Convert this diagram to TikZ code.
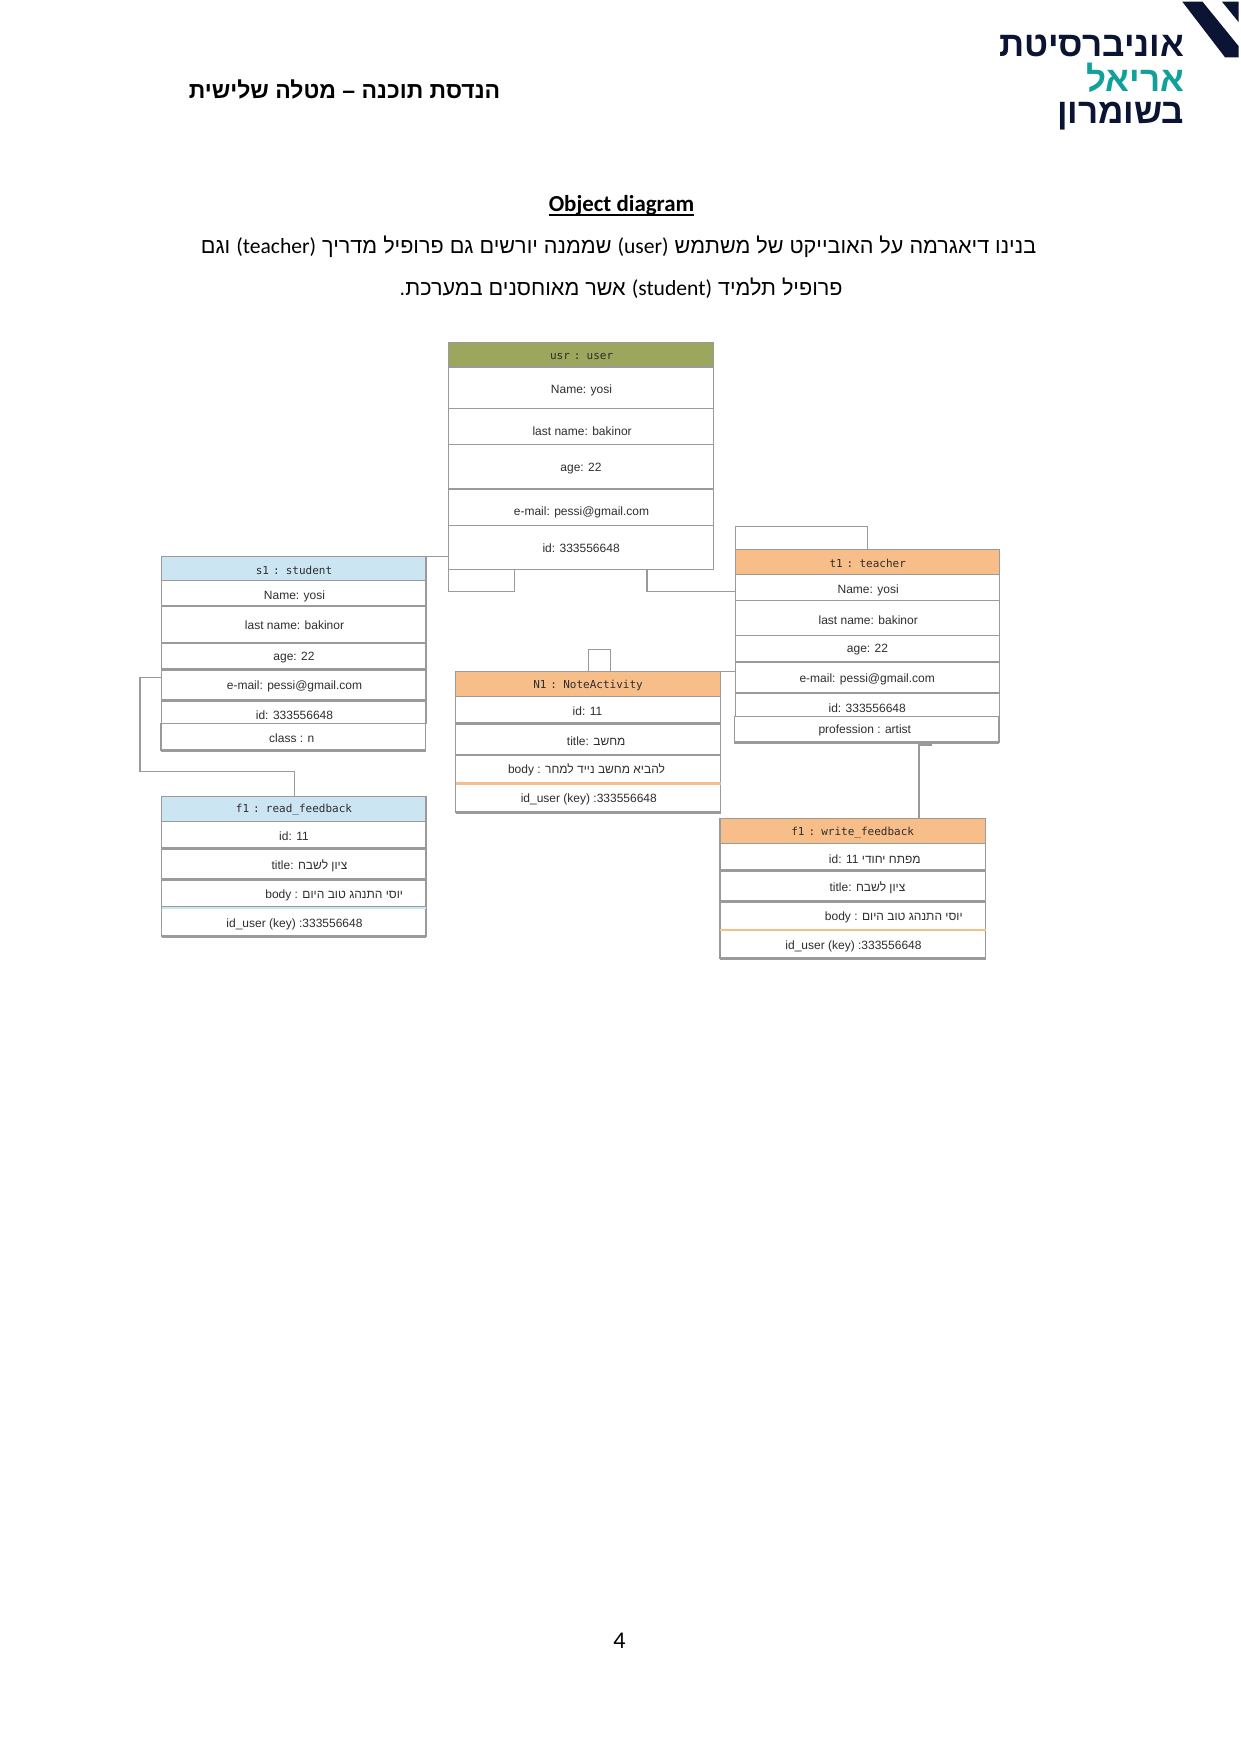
\documentclass[tikz,border=0pt]{standalone}
\usepackage{fontspec}
\setmainfont{Liberation Sans}
\newfontfamily\hebfont[Script=Hebrew]{Liberation Sans}
\newfontfamily\calfont{Carlito}
\newfontfamily\monofam[WordSpace=0.6]{DejaVu Sans Mono}
\TeXXeTstate=1
\newcommand{\heb}[1]{{\hebfont\beginR #1\endR}}
\definecolor{ln}{HTML}{9A9A9A}
\definecolor{txt}{HTML}{2E2E2E}
\definecolor{olive}{HTML}{9DA65D}
\definecolor{skyb}{HTML}{CCE5F3}
\definecolor{orng}{HTML}{F8BE8A}
\definecolor{navy}{HTML}{0B1533}
\definecolor{teal2}{HTML}{12A19A}
\tikzset{
  rowbox/.style={draw=ln,line width=1.1pt,fill=white,inner sep=0pt,outer sep=0pt},
  headbox/.style={rowbox,fill=#1},
  rowtext/.style={inner sep=0pt,text=txt,yshift=-0.8pt,xshift=0.5pt,font=\fontsize{12}{14}\selectfont},
  headtext/.style={inner sep=0pt,text=txt,yshift=-0.8pt,font=\monofam\fontsize{11}{13}\selectfont},
  conn/.style={draw=ln,line width=1.1pt},
  sep/.style={draw=ln,line width=2.6pt},
  sepo/.style={draw=orng,line width=2.6pt},
  sepb/.style={draw=skyb,line width=2.6pt},
  para/.style={inner sep=0pt,text=black,font=\calfont\fontsize{21.6}{25}\selectfont},
}
% name x0 y0 x1 y1 tx ty text
\newcommand{\Rw}[8]{%
  \pgfmathsetmacro\rww{#4-#2}\pgfmathsetmacro\rwh{#5-#3}%
  \node[rowbox,minimum width=\rww pt,minimum height=\rwh pt,anchor=north west] (#1) at (#2,#3) {};
  \node[rowtext] (#1t) at (#6,#7) {#8};
}
\newcommand{\Hd}[9]{%
  \pgfmathsetmacro\rww{#5-#3}\pgfmathsetmacro\rwh{#6-#4}%
  \node[headbox=#2,minimum width=\rww pt,minimum height=\rwh pt,anchor=north west] (#1) at (#3,#4) {};
  \node[headtext] (#1t) at (#7,#8) {#9};
}
\begin{document}
\begin{tikzpicture}[x=1pt,y=-1pt]
\useasboundingbox (0,0) rectangle (1241,1755);
\fill[white] (0,0) rectangle (1241,1755);

% connectors behind the boxes
\coordinate (a1) at (448.5,591.7);
\coordinate (a2) at (514.7,591.7);
\coordinate (b1) at (647,591.7);
\coordinate (b2) at (735.3,591.7);
\coordinate (c1) at (735.3,526.7);
\coordinate (c2) at (867.3,526.7);
\coordinate (d1) at (588.3,649.3);
\coordinate (d2) at (610.7,649.3);
\coordinate (e1) at (588.3,671.7);
\coordinate (e2) at (610.7,671.7);
\coordinate (e3) at (735.3,671.7);
\coordinate (g1) at (426,556.7);
\coordinate (g2) at (449,556.7);
\coordinate (h1) at (161.7,677.7);
\coordinate (h2) at (140,677.7);
\coordinate (h3) at (140,771.3);
\coordinate (h4) at (294.7,771.3);
\coordinate (h5) at (294.7,796.7);
\coordinate (i1) at (919,742.7);
\coordinate (i2) at (919,818.3);
\coordinate (i3) at (932,745);
\coordinate (j1) at (514.7,569.3);
\coordinate (j2) at (448.5,569.3);
\coordinate (k1) at (647,569.3);
\coordinate (k2) at (867.3,549.3);
\draw[conn] (j2) -- (a1) -- (a2) -- (j1);
\draw[conn] (k1) -- (b1) -- (b2);
\draw[conn] (b2) -- (c1) -- (c2) -- (k2);
\draw[conn] (e1) -- (d1) -- (d2) -- (e2) -- (e3);
\draw[conn] (g1) -- (g2);
\draw[conn] (h1) -- (h2) -- (h3) -- (h4) -- (h5);
\draw[conn,line width=1.4pt] (i1) -- (i2);
\draw[conn,line width=1.4pt] (i1) |- (i3);

% user
\Hd{u0}{olive}{448.5}{342.3}{713.7}{367}{581.6}{355.3}{usr : user}
\Rw{u1}{448.5}{367}{713.7}{408.3}{581}{390}{Name: yosi}
\Rw{u2}{448.5}{408.3}{713.7}{444.7}{581.6}{430}{last name: bakinor}
\Rw{u3}{448.5}{444.7}{713.7}{489}{580.5}{467.5}{age: 22}
\Rw{u4}{448.5}{489}{713.7}{525.3}{581}{511.3}{e-mail: pessi@gmail.com}
\Rw{u5}{448.5}{525.3}{713.7}{569.3}{580.6}{547.7}{id: 333556648}
\draw[ln,line width=1.6pt] (u1.south west) -- (u1.south east);
\draw[ln,line width=1.6pt] (u3.south west) -- (u3.south east);

% student
\Hd{s0}{skyb}{161.7}{556.7}{426}{580.7}{294}{570}{s1 : student}
\Rw{s1}{161.7}{580.7}{426}{606}{294}{595.7}{Name: yosi}
\Rw{s2}{161.7}{606}{426}{643}{294}{624.7}{last name: bakinor}
\Rw{s3}{161.7}{643}{426}{669.3}{293.5}{656.7}{age: 22}
\Rw{s4}{161.7}{669.3}{426}{700.7}{294}{685.7}{e-mail: pessi@gmail.com}
\Rw{s5}{161.7}{700.7}{426}{723.7}{294}{714.3}{id: 333556648}
\Rw{s6}{161}{723.7}{425.7}{750.3}{291.3}{737.3}{class : n}
\draw[sep] (s3.south west) -- (s3.south east);
\draw[sep] (s4.south west) -- (s4.south east);
\draw[sep] (s6.south west) -- (s6.south east);

% read feedback
\Hd{r0}{skyb}{161.7}{796.7}{426}{821.7}{294}{809.3}{f1 : read\_feedback}
\Rw{r1}{161.7}{821.7}{426}{848.3}{293.5}{835}{id: 11}
\Rw{r2}{161.7}{848.3}{426}{879.3}{309}{865}{title: \heb{ציון לשבח}}
\Rw{r3}{161.7}{879.3}{426}{907.7}{333.7}{894.3}{body : \heb{יוסי התנהג טוב היום}}
\Rw{r4}{161.7}{907.7}{426}{936.7}{294}{923.3}{id\_user (key) :333556648}
\draw[sep] (r1.south west) -- (r1.south east);
\draw[sep] (r2.south west) -- (r2.south east);
\draw[sepb] (r3.south west) -- (r3.south east);
\draw[ln,line width=1pt] ([yshift=1.6pt]r3.south west) -- ([yshift=1.6pt]r3.south east);
\draw[sep] (r4.south west) -- (r4.south east);

% note activity
\Hd{n0}{orng}{455.7}{671.7}{720.7}{696.3}{588}{685}{N1 : NoteActivity}
\Rw{n1}{455.7}{696.3}{720.7}{723.3}{587}{710.3}{id: 11}
\Rw{n2}{455.7}{723.3}{720.7}{755}{595.7}{740}{title: \heb{מחשב}}
\Rw{n3}{455.7}{755}{720.7}{783.3}{586}{769.3}{body : \heb{להביא מחשב נייד למחר}}
\Rw{n4}{455.7}{783.3}{720.7}{812.3}{588.3}{798.3}{id\_user (key) :333556648}
\draw[sep] (n1.south west) -- (n1.south east);
\draw[sep] (n2.south west) -- (n2.south east);
\draw[sepo] (n3.south west) -- (n3.south east);
\draw[sep] (n4.south west) -- (n4.south east);

% teacher
\Hd{t0}{orng}{735.3}{549.3}{999.7}{574.7}{867.7}{562.3}{t1 : teacher}
\Rw{t1}{735.3}{574.7}{999.7}{600.7}{867.7}{589.7}{Name: yosi}
\Rw{t2}{735.3}{600.7}{999.7}{635.7}{867.7}{619.3}{last name: bakinor}
\Rw{t3}{735.3}{635.7}{999.7}{662}{867}{649}{age: 22}
\Rw{t4}{735.3}{662}{999.7}{693}{866.7}{678.3}{e-mail: pessi@gmail.com}
\Rw{t5}{735.3}{693}{999.7}{742.7}{866.7}{707.3}{id: 333556648}
\Rw{t6}{734.3}{716.7}{999}{742.7}{864.3}{730}{profession : artist}
\draw[sep] (t3.south west) -- (t3.south east);
\draw[sep] (t4.south west) -- (t4.south east);
\draw[sep] (t6.south west) -- (t6.south east);

% write feedback
\Hd{w0}{orng}{720}{818.3}{985.7}{843.7}{852.7}{831.7}{f1 : write\_feedback}
\Rw{w1}{720}{843.7}{985.7}{870.7}{874.3}{858.3}{id: 11 \heb{מפתח יחודי}}
\Rw{w2}{720}{870.7}{985.7}{901.3}{867}{887.3}{title: \heb{ציון לשבח}}
\Rw{w3}{720}{901.3}{985.7}{930}{893.3}{916.7}{body : \heb{יוסי התנהג טוב היום}}
\Rw{w4}{720}{930}{985.7}{958.7}{853}{945.7}{id\_user (key) :333556648}
\draw[sep] (w1.south west) -- (w1.south east);
\draw[sep] (w2.south west) -- (w2.south east);
\draw[sepo] (w3.south west) -- (w3.south east);
\draw[sep] (w4.south west) -- (w4.south east);

% page text
\node[inner sep=0pt,font=\bfseries\fontsize{23}{27}\selectfont] (title) at (344.5,89) {\heb{הנדסת תוכנה – מטלה שלישית}};
\node[inner sep=0pt,font=\calfont\bfseries\fontsize{22.9}{27}\selectfont] (od) at (621.5,205) {Object diagram};
\draw[line width=1.2pt] ([yshift=-4pt]od.base west) -- ([yshift=-4pt]od.base east);
\node[para] (p1) at (618.5,247) {\hebfont\beginR בנינו דיאגרמה על האובייקט של משתמש \beginL{\calfont (user)}\endL{} שממנה יורשים גם פרופיל מדריך \beginL{\calfont (teacher)}\endL{} וגם\endR};
\node[para] (p2) at (621,288) {\hebfont\beginR פרופיל תלמיד \beginL{\calfont (student)}\endL{} אשר מאוחסנים במערכת.\endR};
\node[inner sep=0pt,font=\calfont\fontsize{24}{28}\selectfont] (pg) at (619.5,1640.5) {4};

% logo
\fill[navy] (1182.3,1.7) -- (1202.5,1.7) -- (1238.5,46) -- (1238.5,57.3) -- (1225,57.3) -- cycle;
\fill[navy] (1222,1.7) -- (1238.5,1.7) -- (1238.5,22) -- cycle;
\node[inner sep=0pt,anchor=base east,text=navy,font=\bfseries\fontsize{35}{40}\selectfont] (lg1) at (1184.5,56.7) {\heb{אוניברסיטת}};
\node[inner sep=0pt,anchor=base east,text=teal2,font=\bfseries\fontsize{35}{40}\selectfont] (lg2) at (1184.5,91.5) {\heb{אריאל}};
\node[inner sep=0pt,anchor=base east,text=navy,font=\bfseries\fontsize{35}{40}\selectfont] (lg3) at (1184.5,123.5) {\heb{בשומרון}};
\end{tikzpicture}
\end{document}
